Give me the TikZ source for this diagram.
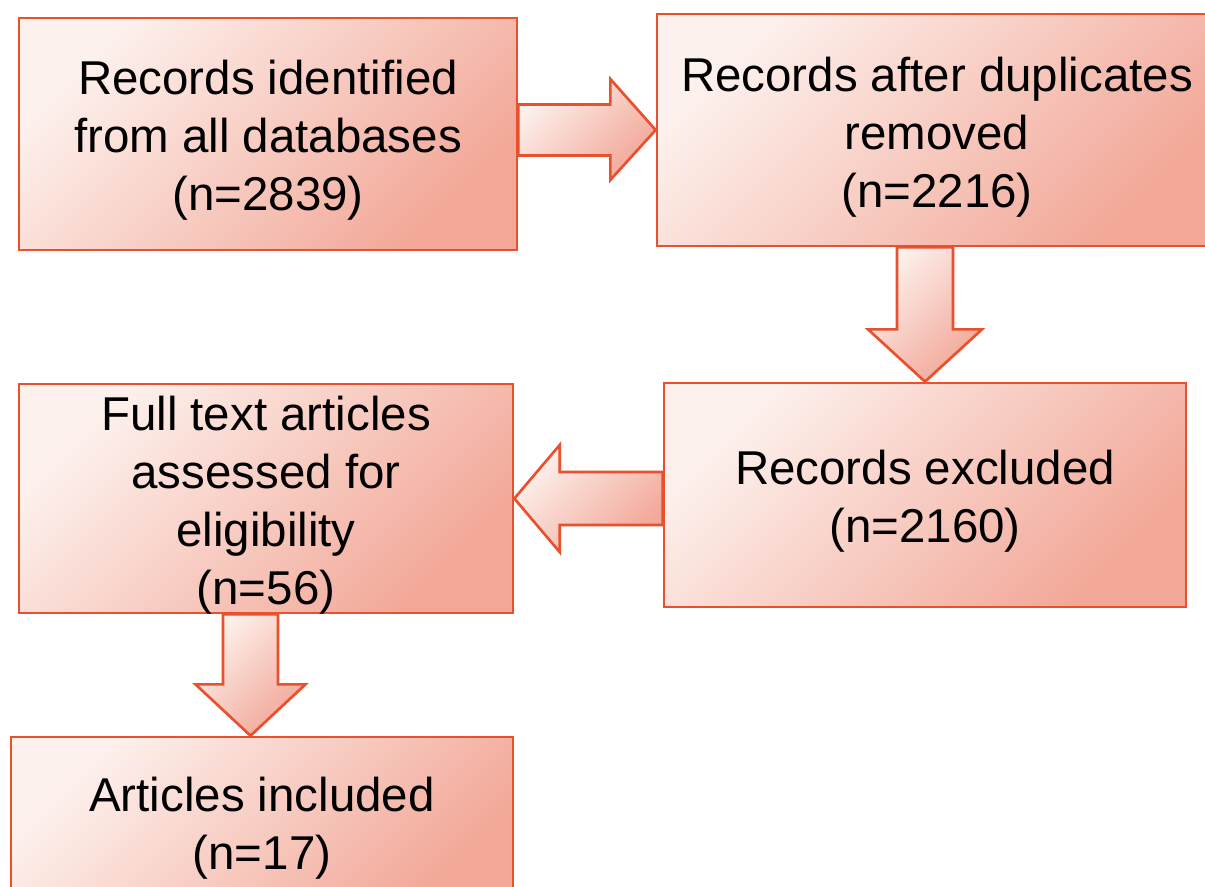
\documentclass[tikz,border=0pt]{standalone}
\usepackage{fontspec}
\setmainfont{Liberation Sans}
\usetikzlibrary{calc}
\definecolor{edgeC}{HTML}{E8502E}
\definecolor{lightC}{HTML}{FDF1ED}
\definecolor{darkC}{HTML}{F2A797}
\tikzset{
  box/.style={draw=edgeC, line width=2pt, top color=lightC, bottom color=darkC, shading angle=45,
    inner sep=0pt},
  txt/.style={align=center, inner sep=0pt, font=\fontsize{35.6}{43.5}\selectfont},
  barrow/.style={draw=edgeC, line width=2pt, top color=lightC, bottom color=darkC, shading angle=45, line join=miter}
}
\begin{document}
\begin{tikzpicture}[x=0.75pt,y=-0.75pt]
\useasboundingbox (0,0) rectangle (1205,886);
\clip (0,0) rectangle (1205,886);
\node[box, minimum width=373.5pt, minimum height=174pt] (A) at (268,134) {};
\node[box, minimum width=420pt, minimum height=174pt] (B) at (937,130) {};
\node[box, minimum width=391.5pt, minimum height=168pt] (C) at (925,495) {};
\node[box, minimum width=370.5pt, minimum height=171.75pt] (D) at (266,498.5) {};
\node[box, minimum width=376.5pt, minimum height=129.75pt] (E) at (262,823.5) {};
% arrow A -> B
\coordinate (t1) at (A.east |- B.west);
\draw[barrow] ($(t1)+(0,-25.5)$) -- ($(t1)+(92,-25.5)$) -- ($(t1)+(92,-51)$) -- (B.west)
  -- ($(t1)+(92,50)$) -- ($(t1)+(92,25.5)$) -- ($(t1)+(0,25.5)$) -- cycle;
% arrow B -> C
\coordinate (t2) at (C.north |- B.south);
\draw[barrow] ($(t2)+(-28,0)$) -- ($(t2)+(-28,82)$) -- ($(t2)+(-57,82)$) -- (C.north)
  -- ($(t2)+(57,82)$) -- ($(t2)+(28,82)$) -- ($(t2)+(28,0)$) -- cycle;
% arrow C -> D
\coordinate (t3) at (C.west |- D.east);
\draw[barrow] ($(t3)+(0,-26.5)$) -- ($(t3)+(-103,-26.5)$) -- ($(t3)+(-103,-53.5)$) -- (D.east)
  -- ($(t3)+(-103,53.5)$) -- ($(t3)+(-103,26.5)$) -- ($(t3)+(0,26.5)$) -- cycle;
% arrow D -> E
\coordinate (t4) at ($(D.south)+(-15.5,0)$);
\coordinate (h4) at (t4 |- E.north);
\draw[barrow] ($(t4)+(-27.5,0)$) -- ($(t4)+(-27.5,70)$) -- ($(t4)+(-55,70)$) -- (h4)
  -- ($(t4)+(55,70)$) -- ($(t4)+(27.5,70)$) -- ($(t4)+(27.5,0)$) -- cycle;
% texts
\node[txt] (At) at ($(A.center)+(0,6)$) {Records identified\\from all databases\\(n=2839)};
\node[txt] (Bt) at ($(B.center)+(0,7)$) {Records after duplicates\\removed\\(n=2216)};
\node[txt] (Ct) at ($(C.center)+(0,6)$) {Records excluded\\(n=2160)};
\node[txt] (Dt) at ($(D.center)+(0,7)$) {Full text articles\\assessed for\\eligibility\\(n=56)};
\node[txt] (Et) at ($(E.center)+(0,5)$) {Articles included\\(n=17)};
\end{tikzpicture}
\end{document}
